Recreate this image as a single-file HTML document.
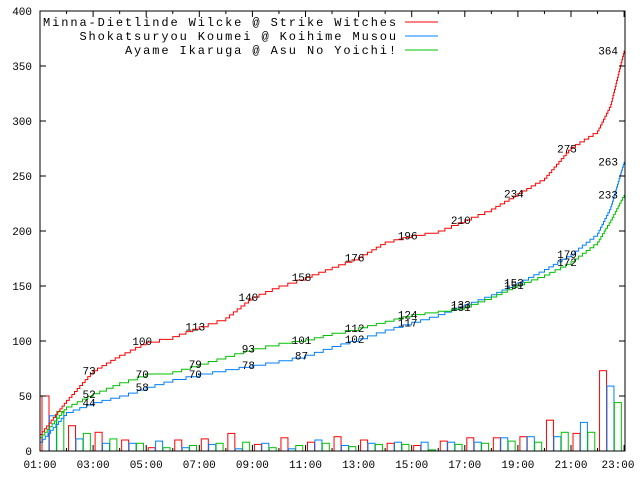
<!DOCTYPE html>
<html><head><meta charset="utf-8"><style>
body{margin:0;background:#fff}
svg text{font-family:"Liberation Mono","DejaVu Sans Mono",monospace;font-size:11px;fill:#000}
</style></head><body>
<svg id="c" width="640" height="480" xmlns="http://www.w3.org/2000/svg"></svg>
<script>
const hours=[1,2,3,4,5,6,7,8,9,10,11,12,13,14,15,16,17,18,19,20,21,22,22.5,23];
const redLine=[15,46,73,87,99,104,113,121,140,150,158,167,176,190,196,200,210,220,234,248,276,291,315,364];
const blueLine=[8,35,44,50,58,65,70,74,78,82,87,95,102,110,117,124,133,142,153,165,179,198,222,263];
const greenLine=[12,40,52,62,70,72,79,86,93,98,101,107,112,118,124,127,131,140,151,160,172,190,210,233];
const labelHours=[3,5,7,9,11,13,15,17,19,21,23];
const redLabels=[73,100,113,140,158,176,196,210,234,275,364];
const blueLabels=[44,58,70,78,87,102,117,133,153,179,263];
const greenLabels=[52,70,79,93,101,112,124,131,151,172,233];
const barHours=[1,2,3,4,5,6,7,8,9,10,11,12,13,14,15,16,17,18,19,20,21,22];
const redBars=[50,23,17,10,3,10,11,16,6,12,8,13,10,7,5,9,12,12,13,28,16,73];
const blueBars=[32,11,7,7,9,3,6,2,7,2,10,5,7,8,8,8,8,12,13,13,26,59];
const greenBars=[36,16,11,7,3,5,7,8,3,5,7,4,6,6,1,6,7,9,8,17,17,44];
const yTicks=[0,50,100,150,200,250,300,350,400];
const xLabels=["01:00","03:00","05:00","07:00","09:00","11:00","13:00","15:00","17:00","19:00","21:00","23:00"];
const L=40,R=625,T=11,B=451;
const X=h=>L+(h-1)*26.55;
const Y=v=>B-v*1.1;
const svg=document.getElementById('c');
const NS='http://www.w3.org/2000/svg';
function mk(t,a,p){const e=document.createElementNS(NS,t);for(const k in a)e.setAttribute(k,a[k]);(p||svg).appendChild(e);return e;}
const cols=['#ff0000','#0080ff','#00c000'];
[redBars,blueBars,greenBars].forEach((arr,si)=>{
  arr.forEach((v,i)=>{
    const x=X(barHours[i])+2+si*7.4;
    const r=mk('rect',{x:x,y:Y(v),width:7,height:B-Y(v),fill:'none',stroke:cols[si],'stroke-width':1});
    
    
  });
});
[redLine,blueLine,greenLine].forEach((arr,si)=>{
  let d='M'+X(hours[0]).toFixed(1)+' '+Y(arr[0]).toFixed(1)+' ';
  for(let i=1;i<arr.length;i++){
    const x0=X(hours[i-1]),x1=X(hours[i]),y0=Y(arr[i-1]),y1=Y(arr[i]);
    const n=Math.max(1,Math.ceil(Math.abs(y1-y0)/3));
    for(let k=1;k<=n;k++){
      const xs=x0+(x1-x0)*k/n, ys=y0+(y1-y0)*k/n;
      d+='H'+xs.toFixed(1)+' V'+ys.toFixed(1)+' ';
    }
  }
  const p=mk('path',{d:d,fill:'none',stroke:cols[si],'stroke-width':1});
  
  
});
[redLabels,blueLabels,greenLabels].forEach((arr,si)=>{
  arr.forEach((v,i)=>{
    const h=labelHours[i];
    const t=mk('text',{x:Math.min(X(h)-4,618),y:Y(v)+4,'text-anchor':h===23?'end':'middle'});
    t.textContent=v;
    
    
  });
});
const f=mk('rect',{x:L,y:T,width:R-L,height:B-T,fill:'none',stroke:'#000','stroke-width':1});


yTicks.forEach(v=>{
  mk('line',{x1:L,x2:L+6,y1:Y(v),y2:Y(v),stroke:'#000'});
  mk('line',{x1:R,x2:R-6,y1:Y(v),y2:Y(v),stroke:'#000'});
  const t=mk('text',{x:L-8,y:Y(v)+4,'text-anchor':'end'});
  t.textContent=v;
  
  
});
for(let h=1;h<=23;h++){
  const len=(h%2)?6:3;
  mk('line',{x1:X(h),x2:X(h),y1:B,y2:B-len,stroke:'#000'});
  mk('line',{x1:X(h),x2:X(h),y1:T,y2:T+len,stroke:'#000'});
}
xLabels.forEach((s,i)=>{
  const t=mk('text',{x:Math.min(X(1+2*i),618),y:468,'text-anchor':'middle'});
  t.textContent=s;
  
  
});
const names=["Minna-Dietlinde Wilcke @ Strike Witches","Shokatsuryou Koumei @ Koihime Musou","Ayame Ikaruga @ Asu No Yoichi!"];
names.forEach((n,i)=>{
  const y=22+i*14;
  const t=mk('text',{x:398,y:y+4,'text-anchor':'end',style:'font-size:12px;letter-spacing:1.9px'});
  t.textContent=n;
  
  
  const l=mk('line',{x1:405,x2:438,y1:y,y2:y,stroke:cols[i]});
  
  
});
</script>
</body></html>
